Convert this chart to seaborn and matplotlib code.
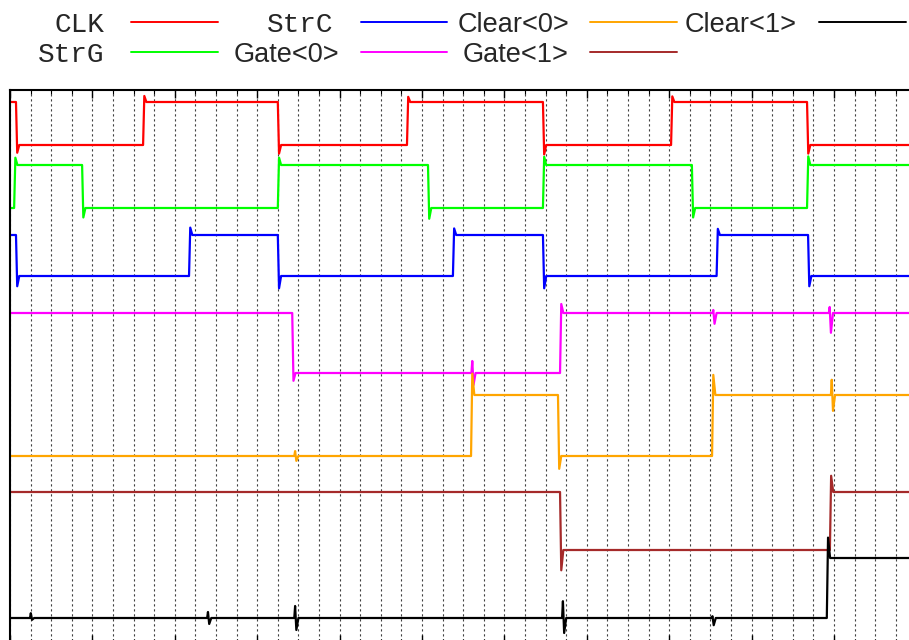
import matplotlib
matplotlib.use("Agg")
import numpy as np
import pandas as pd
import matplotlib.pyplot as plt
from matplotlib.lines import Line2D
from matplotlib.ticker import MultipleLocator
import seaborn as sns

# ---------------- data ----------------
signals = ["CLK", "StrG", "StrC", "Gate<0>", "Clear<0>", "Gate<1>", "Clear<1>"]
colors = ["#ff0000", "#00ff00", "#0000ff", "#ff00ff", "#ffa500", "#a52a2a", "#000000"]

t_end = 43.64  # time units (1 unit = one dotted grid step)

# logic start state, edge times, overshoot peak (logic units) right after each edge
clk_start = 1
clk_edges = [0.29, 6.46, 13.0, 19.27, 25.87, 32.09, 38.69]
clk_peaks = [-0.18, 1.14, -0.2, 1.12, -0.22, 1.13, -0.2]

strg_start = 0
strg_edges = [0.20, 3.50, 13.0, 20.29, 25.87, 33.10, 38.69]
strg_peaks = [1.17, -0.22, 1.17, -0.25, 1.19, -0.22, 1.2]

strc_start = 1
strc_edges = [0.29, 8.69, 13.0, 21.50, 25.87, 34.30, 38.74]
strc_peaks = [-0.25, 1.18, -0.3, 1.16, -0.3, 1.15, -0.25]

gate0_start = 1
gate0_edges = [13.70, 26.70]
gate0_peaks = [-0.13, 1.15]

clear0_start = 0
clear0_edges = [22.38, 26.60, 34.08]
clear0_peaks = [1.35, -0.21, 1.33]

gate1_start = 1
gate1_edges = [26.70, 39.80]
gate1_peaks = [-0.35, 1.28]

clear1_start = 0
clear1_edges = [39.65]
clear1_peaks = [1.34]

# glitches: time, upward excursion, downward excursion (logic units)
clk_glitch_t, clk_glitch_up, clk_glitch_dn = [], [], []
strg_glitch_t, strg_glitch_up, strg_glitch_dn = [], [], []
strc_glitch_t, strc_glitch_up, strc_glitch_dn = [], [], []
gate0_glitch_t = [22.40, 34.10, 39.75]
gate0_glitch_up = [0.2, 0.05, 0.1]
gate0_glitch_dn = [-0.2, -0.18, -0.33]
clear0_glitch_t = [13.80, 39.85]
clear0_glitch_up = [0.08, 0.25]
clear0_glitch_dn = [-0.08, -0.26]
gate1_glitch_t, gate1_glitch_up, gate1_glitch_dn = [], [], []
clear1_glitch_t = [0.97, 9.57, 13.80, 26.80, 34.06]
clear1_glitch_up = [0.08, 0.1, 0.2, 0.28, 0.03]
clear1_glitch_dn = [-0.03, -0.1, -0.2, -0.25, -0.12]

starts = [clk_start, strg_start, strc_start, gate0_start, clear0_start, gate1_start, clear1_start]
edges = [clk_edges, strg_edges, strc_edges, gate0_edges, clear0_edges, gate1_edges, clear1_edges]
peaks = [clk_peaks, strg_peaks, strc_peaks, gate0_peaks, clear0_peaks, gate1_peaks, clear1_peaks]
glitch_t = [clk_glitch_t, strg_glitch_t, strc_glitch_t, gate0_glitch_t, clear0_glitch_t,
            gate1_glitch_t, clear1_glitch_t]
glitch_up = [clk_glitch_up, strg_glitch_up, strc_glitch_up, gate0_glitch_up, clear0_glitch_up,
             gate1_glitch_up, clear1_glitch_up]
glitch_dn = [clk_glitch_dn, strg_glitch_dn, strc_glitch_dn, gate0_glitch_dn, clear0_glitch_dn,
             gate1_glitch_dn, clear1_glitch_dn]

# ---------------- layout (vertical placement of each trace) ----------------
base = [49.8, 43.5, 36.7, 27.0, 18.7, 9.3, 2.5]
swing = [4.3, 4.3, 4.1, 6.0, 6.1, 5.8, 6.0]


def build(start, ed, pk, gt, gu, gd):
    ev = [(t, "e", p) for t, p in zip(ed, pk)] + \
         [(t, "g", (u, d)) for t, u, d in zip(gt, gu, gd)]
    ev.sort(key=lambda e: e[0])
    state = start
    pts = [(0.0, state)]
    for t, kind, v in ev:
        if kind == "e":
            new = 1 - state
            pts += [(t, state), (t + 0.06, v), (t + 0.16, new)]
            state = new
        else:
            u, d = v
            pts += [(t, state), (t + 0.04, state + u), (t + 0.1, state + d), (t + 0.2, state)]
    pts.append((t_end, state))
    return pts


rows = []
for i, name in enumerate(signals):
    pts = build(starts[i], edges[i], peaks[i], glitch_t[i], glitch_up[i], glitch_dn[i])
    for k, (t, v) in enumerate(pts):
        rows.append({"time": t, "level": base[i] + swing[i] * v, "signal": name, "k": k})
df = pd.DataFrame(rows)

# ---------------- figure ----------------
sns.set_style("white")
W, H = 909, 640
fig = plt.figure(figsize=(W / 100, H / 100), dpi=100)
ax = fig.add_axes([10 / W, -3 / H, 899 / W, (643 - 89.5) / H])

sns.lineplot(data=df, x="time", y="level", hue="signal", hue_order=signals,
             palette=dict(zip(signals, colors)), sort=False, estimator=None,
             linewidth=1.6, legend=False, ax=ax)

ax.set_xlim(0, t_end)
ax.set_ylim(0, 55.35)
ax.set_xlabel("")
ax.set_ylabel("")
ax.set_yticks([])
ax.xaxis.set_major_locator(MultipleLocator(4))
ax.xaxis.set_minor_locator(MultipleLocator(1))
ax.tick_params(axis="x", which="major", direction="in", length=6, width=1.0,
               top=True, bottom=True, labelbottom=False, labeltop=False, color="black")
ax.tick_params(axis="x", which="minor", direction="in", length=3, width=0.8,
               top=True, bottom=True, color="black")
ax.grid(which="both", axis="x", color="0.25", linestyle=(0, (2, 2.5)), linewidth=0.8)
ax.grid(which="both", axis="y", visible=False)
ax.set_axisbelow(True)
for s in ["right", "bottom"]:
    ax.spines[s].set_visible(False)
for s in ["left", "top"]:
    ax.spines[s].set_visible(True)
    ax.spines[s].set_color("black")
    ax.spines[s].set_linewidth(1.5)

# ---------------- key (gnuplot style: label then sample) ----------------
mono = {"family": ["Liberation Mono", "DejaVu Sans Mono"], "size": 20}
sans = {"family": ["Liberation Sans", "DejaVu Sans"], "size": 19.5}
key_text_right = [104, 104, 333, 339, 569, 568, 797]
key_line_x = [(131, 218), (131, 218), (361, 447), (361, 447), (590, 677), (590, 677), (819, 906)]
key_row_y = [22, 52, 22, 52, 22, 52, 22]
key_font = [mono, mono, mono, sans, sans, sans, sans]
for i, name in enumerate(signals):
    y = key_row_y[i]
    fig.text(key_text_right[i] / W, 1 - y / H, name, ha="right", va="center_baseline",
             **key_font[i])
    x1, x2 = key_line_x[i]
    fig.add_artist(Line2D([x1 / W, x2 / W], [1 - y / H, 1 - y / H], color=colors[i],
                          lw=1.4, transform=fig.transFigure))

fig.savefig("out.png", dpi=100)
